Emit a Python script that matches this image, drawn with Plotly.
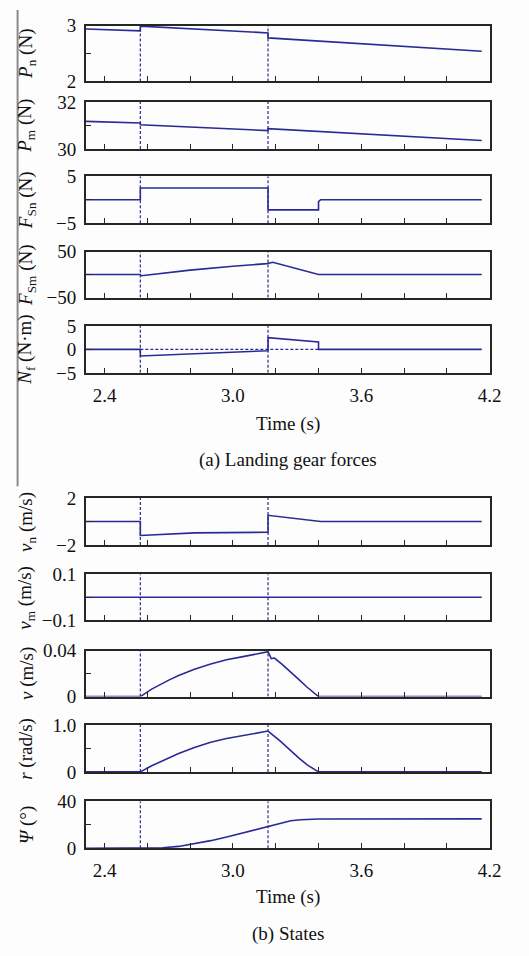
import plotly.graph_objects as go

# ---------------- data ----------------
events = [2.567, 3.164]          # dashed vertical event lines
nf_zero_span = [2.567, 3.4]      # dashed zero line in N_f panel

pn_t = [2.313, 2.567, 2.567, 3.164, 3.164, 4.163]
pn = [2.94, 2.906, 2.99, 2.87, 2.78, 2.54]

pm_t = [2.313, 2.567, 2.567, 3.164, 3.164, 4.163]
pm = [31.17, 31.10, 31.03, 30.78, 30.86, 30.36]

fsn_t = [2.313, 2.567, 2.567, 3.164, 3.164, 3.40, 3.40, 3.41, 4.163]
fsn = [0, 0, 2.5, 2.5, -2.15, -2.15, -0.4, 0, 0]

fsm_t = [2.313, 2.567, 2.572, 2.80, 3.00, 3.159, 3.186, 3.40, 4.163]
fsm = [0, 0, -2.5, 9.6, 18.0, 23.8, 26.6, 0, 0]

nf_t = [2.313, 2.567, 2.567, 3.164, 3.164, 3.40, 3.40, 4.163]
nf = [0, 0, -1.4, -0.28, 2.5, 1.57, 0, 0]

vn_t = [2.313, 2.567, 2.567, 2.82, 3.164, 3.164, 3.41, 4.163]
vn = [0, 0, -1.19, -0.97, -0.92, 0.53, 0, 0]

vm_t = [2.313, 3.164, 3.165, 3.18, 4.163]
vm = [0, 0, -0.003, 0, 0]

v_t = [2.313, 2.567, 2.62, 2.656, 2.70, 2.746, 2.82, 2.896, 2.97, 3.047, 3.10, 3.159,
       3.164, 3.179, 3.194, 3.23, 3.272, 3.31, 3.347, 3.40, 4.163]
v = [0, 0, 0.0065, 0.0101, 0.0143, 0.0183, 0.0237, 0.0284, 0.0320, 0.0348, 0.0366, 0.0386,
     0.0390, 0.0330, 0.0335, 0.0280, 0.0212, 0.0145, 0.0081, 0, 0]

r_t = [2.313, 2.567, 2.62, 2.671, 2.746, 2.82, 2.896, 2.97, 3.047, 3.10, 3.164,
       3.22, 3.272, 3.31, 3.347, 3.40, 4.163]
r = [0, 0, 0.13, 0.237, 0.39, 0.52, 0.63, 0.71, 0.78, 0.82, 0.87,
     0.66, 0.44, 0.29, 0.15, 0, 0]

psi_t = [2.313, 2.567, 2.62, 2.671, 2.746, 2.821, 2.896, 2.971, 3.047, 3.10, 3.164,
         3.227, 3.27, 3.317, 3.36, 3.40, 4.163]
psi = [0, 0, 0.05, 0.3, 1.5, 3.8, 6.4, 9.6, 13.1, 15.8, 19.0,
       21.9, 23.3, 24.2, 24.6, 24.8, 25.0]

y_titles = [
    "<i>P</i><sub>n</sub> (N)", "<i>P</i><sub>m</sub> (N)",
    "<i>F</i><sub>Sn</sub> (N)", "<i>F</i><sub>Sm</sub> (N)",
    "<i>N</i><sub>f</sub> (N·m)",
    "<i>v</i><sub>n</sub> (m/s)", "<i>v</i><sub>m</sub> (m/s)",
    "<i>v</i> (m/s)", "<i>r</i> (rad/s)", "<i>Ψ</i> (°)",
]
y_ranges = [(2, 3), (30, 32), (-5, 5), (-50, 50), (-5, 5),
            (-2, 2), (-0.1, 0.1), (0, 0.04), (0, 1.0), (0, 40)]
y_labeled = [[2, 3], [30, 32], [-5, 5], [-50, 50], [-5, 0, 5],
             [-2, 2], [-0.1, 0.1], [0, 0.04], [0, 1.0], [0, 40]]
y_labels = [["2", "3"], ["30", "32"], ["−5", "5"], ["−50", "50"],
            ["−5", "0", "5"], ["−2", "2"], ["−0.1", "0.1"],
            ["0", "0.04"], ["0", "1.0"], ["0", "40"]]
y_minor = [[2.5], [31], [0], [0], [], [0], [0], [0.02], [0.5], [20]]
x_labeled = [2.4, 3.0, 3.6, 4.2]
x_labels = ["2.4", "3.0", "3.6", "4.2"]
x_minor = [2.6, 2.8, 3.2, 3.4, 3.8, 4.0]

series = [(pn_t, pn), (pm_t, pm), (fsn_t, fsn), (fsm_t, fsm), (nf_t, nf),
          (vn_t, vn), (vm_t, vm), (v_t, v), (r_t, r), (psi_t, psi)]

# ---------------- layout constants ----------------
W, H = 529, 956
PX_L, PX_R = 88, 501
panel_px = [(16, 73), (94, 142), (170, 218), (247, 294), (323, 371),
            (499, 547), (577, 624), (655, 702), (731, 779), (809, 857)]
LINE = "#2a2a96"
AX = "#262626"
FONT = "Liberation Serif"
FS = 19

fig = go.Figure()
layout = dict(
    width=W, height=H, autosize=False,
    margin=dict(l=0, r=0, t=0, b=0),
    paper_bgcolor="#fdfdfd", plot_bgcolor="#fdfdfd",
    showlegend=False,
    font=dict(family=FONT, size=FS, color="#111"),
    annotations=[], shapes=[],
)

tick_common = dict(ticks="inside", ticklen=5, tickwidth=1.2, tickcolor=AX)

for i, ((tx, ty), (lo, hi)) in enumerate(zip(series, y_ranges)):
    k = i + 1
    xa = "x" if k == 1 else f"x{k}"
    ya = "y" if k == 1 else f"y{k}"
    top, bot = panel_px[i]
    show_x = k in (5, 10)
    ex, ey = [], []
    for e in events:
        ex += [e, e, None]
        ey += [lo, hi, None]
    fig.add_trace(go.Scatter(x=ex, y=ey, mode="lines", xaxis=xa, yaxis=ya,
                             line=dict(color=LINE, width=1.2, dash="3px,2px"),
                             hoverinfo="skip"))
    if k == 5:
        fig.add_trace(go.Scatter(x=nf_zero_span, y=[0, 0], mode="lines", xaxis=xa, yaxis=ya,
                                 line=dict(color=LINE, width=1.2, dash="3px,2px"),
                                 hoverinfo="skip"))
    fig.add_trace(go.Scatter(x=tx, y=ty, mode="lines", xaxis=xa, yaxis=ya,
                             line=dict(color=LINE, width=1.6)))
    xkey = "xaxis" if k == 1 else f"xaxis{k}"
    ykey = "yaxis" if k == 1 else f"yaxis{k}"
    layout[xkey] = dict(
        domain=[PX_L / W, PX_R / W], anchor=ya, range=[2.313, 4.2],
        showgrid=False, zeroline=False, showline=True, mirror=True,
        linecolor=AX, linewidth=1.8, **tick_common,
        tickmode="array", tickvals=x_labeled, ticktext=x_labels,
        minor=dict(tickmode="array", tickvals=x_minor, **tick_common),
        showticklabels=show_x, ticklabelstandoff=4,
        tickfont=dict(family=FONT, size=FS, color="#111"),
    )
    ymin = dict(tickmode="array", tickvals=y_minor[i], **tick_common) if y_minor[i] else dict(ticks="")
    layout[ykey] = dict(
        domain=[1 - bot / H, 1 - top / H], anchor=xa, range=[lo, hi],
        showgrid=False, zeroline=False, showline=True, mirror=True,
        linecolor=AX, linewidth=1.8, **tick_common,
        tickmode="array", tickvals=y_labeled[i], ticktext=y_labels[i],
        minor=ymin,
        ticklabelstandoff=4,
        tickfont=dict(family=FONT, size=FS, color="#111"),
    )
    layout["annotations"].append(dict(
        text=y_titles[i], xref="paper", yref="paper",
        x=27 / W, y=1 - (top + bot) / 2 / H, textangle=-90,
        showarrow=False, xanchor="center", yanchor="middle",
        font=dict(family=FONT, size=FS, color="#111")))

for txt, ypx in [("Time (s)", 423), ("(a) Landing gear forces", 460),
                 ("Time (s)", 907), ("(b) States", 945)]:
    layout["annotations"].append(dict(
        text=txt, xref="paper", yref="paper", x=294.5 / W, y=1 - ypx / H,
        showarrow=False, xanchor="center", yanchor="middle",
        font=dict(family=FONT, size=FS, color="#111")))

layout["shapes"].append(dict(type="line", xref="paper", yref="paper",
                             x0=18 / W, x1=18 / W, y0=1, y1=1 - 487 / H,
                             line=dict(color="#8a8a8a", width=2)))

fig.update_layout(**layout)
fig.write_html("out.html")
